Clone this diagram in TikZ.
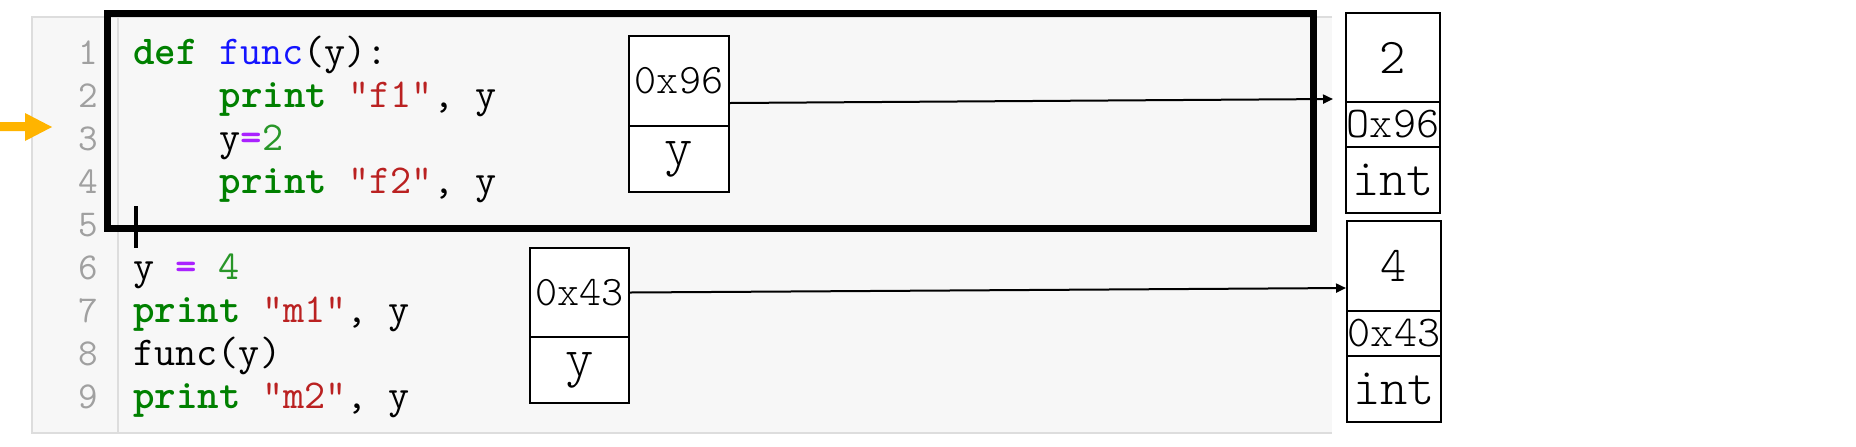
\documentclass[tikz,border=0pt]{standalone}
\usepackage{fontspec}
\usetikzlibrary{arrows.meta}
\definecolor{kwgreen}{RGB}{0,128,0}
\definecolor{fnblue}{RGB}{20,20,255}
\definecolor{strred}{RGB}{186,33,33}
\definecolor{oppurple}{RGB}{170,34,255}
\definecolor{numgreen}{RGB}{40,150,40}
\definecolor{lngray}{RGB}{160,160,160}
\definecolor{bggray}{RGB}{247,247,247}
\definecolor{bordergray}{RGB}{221,221,221}
\definecolor{amber}{RGB}{255,180,0}
\newcommand\ckw[1]{{\fontseries{b}\selectfont\color{kwgreen}#1}}
\newcommand\cfn[1]{{\color{fnblue}#1}}
\newcommand\cstr[1]{{\color{strred}#1}}
\newcommand\cop[1]{{\fontseries{b}\selectfont\color{oppurple}#1}}
\newcommand\cnum[1]{{\color{numgreen}#1}}
\newcommand\boxfont[1]{\ttfamily\fontseries{l}\fontsize{#1}{#1}\selectfont}
\tikzset{
  codeline/.style={anchor=base west, inner sep=0pt, font=\ttfamily\fontsize{20.5}{24}\selectfont},
  lnum/.style={anchor=base east, inner sep=0pt, text=lngray, font=\ttfamily\fontsize{19}{22}\selectfont},
  cell/.style={draw, line width=1pt, fill=white, inner sep=0pt},
  ptr/.style={line width=1pt, -{Triangle[length=5pt,width=4.5pt]}},
}
\begin{document}
\begin{tikzpicture}[x=0.5pt,y=-0.5pt]
\useasboundingbox (0,0) rectangle (1856,446);
\fill[white] (0,0) rectangle (1856,446);
% editor background
\fill[bggray] (32,17) rectangle (1332,433);
\draw[bordergray, line width=1pt] (1332,17) -- (32,17) -- (32,433) -- (1332,433);
\draw[bordergray, line width=1pt] (118,17) -- (118,433);
% line numbers
\foreach \i in {1,...,9} {
  \node[lnum] (ln\i) at (98,{64+43*(\i-1)}) {\i};
}
% code
\node[codeline] (c1) at (133,64) {\ckw{def} \cfn{func}(y):};
\node[codeline] (c2) at (219.4,107) {\ckw{print} \cstr{"f1"}, y};
\node[codeline] (c3) at (219.4,150) {y\cop{=}\cnum{2}};
\node[codeline] (c4) at (219.4,193) {\ckw{print} \cstr{"f2"}, y};
\node[codeline] (c6) at (133,279) {y \cop{=} \cnum{4}};
\node[codeline] (c7) at (133,322) {\ckw{print} \cstr{"m1"}, y};
\node[codeline] (c8) at (133,365) {func(y)};
\node[codeline] (c9) at (133,408) {\ckw{print} \cstr{"m2"}, y};
% current-line marker
\fill[amber] (0,122) -- (25,122) -- (25,113) -- (52,127) -- (25,141) -- (25,131) -- (0,131) -- cycle;
% function frame
\draw[line width=3.5pt] (107,13.5) rectangle (1313,228.5);
% local variable boxes
\node[cell, minimum width=50pt, minimum height=45pt, font=\boxfont{21}] (a1) at (679,81) {0x96};
\node[cell, minimum width=50pt, minimum height=33pt, font=\boxfont{27}] (n1) at (679,159) {y};
\node[cell, minimum width=49.5pt, minimum height=44.5pt, font=\boxfont{21}] (a2) at (579.5,292.5) {0x43};
\node[cell, minimum width=49.5pt, minimum height=33pt, font=\boxfont{27}] (n2) at (579.5,370) {y};
% objects
\node[cell, minimum width=47pt, minimum height=44.5pt, font=\boxfont{25}] (v1) at (1393,57.5) {2};
\node[cell, minimum width=47pt, minimum height=22.5pt, font=\boxfont{22}] (i1) at (1393,124.5) {Ox96};
\node[cell, minimum width=47pt, minimum height=33pt, font=\boxfont{26}] (t1) at (1393,180) {int};
\node[cell, minimum width=47pt, minimum height=45pt, font=\boxfont{25}] (v2) at (1394,266) {4};
\node[cell, minimum width=47pt, minimum height=22.5pt, font=\boxfont{22}] (i2) at (1394,333.5) {0x43};
\node[cell, minimum width=47pt, minimum height=33pt, font=\boxfont{26}] (t2) at (1394,389) {int};
% references
\coordinate (e1) at (1333,99);
\draw[ptr] ([yshift=-11pt]a1.east) -- (e1);
\draw[ptr] (a2.east) -- ([yshift=-11pt]v2.west);
% text cursor
\draw[line width=1.6pt] (136,206) -- (136,248);
\end{tikzpicture}
\end{document}
